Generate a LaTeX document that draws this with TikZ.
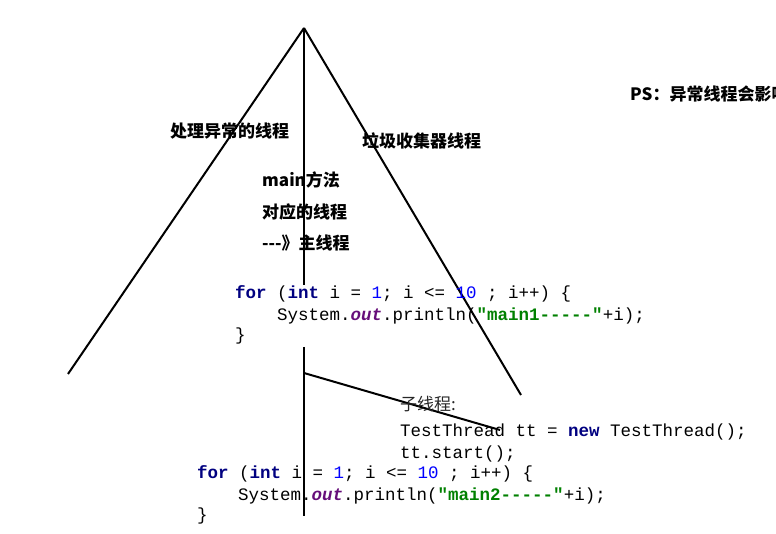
\documentclass[tikz,border=0pt]{standalone}
\usepackage{fontspec}
\setmonofont{Liberation Mono}
\newfontfamily\cjk{Noto Sans CJK SC}
\usepackage{xcolor}
\usetikzlibrary{positioning}

\definecolor{kwblue}{HTML}{000080}
\definecolor{numblue}{HTML}{0000FF}
\definecolor{fieldpurple}{HTML}{660E7A}
\definecolor{strgreen}{HTML}{008000}

\newcommand{\kw}[1]{\textcolor{kwblue}{\textbf{#1}}}
\newcommand{\jnum}[1]{\textcolor{numblue}{#1}}
\newcommand{\jfield}[1]{\textcolor{fieldpurple}{\textbf{\textit{#1}}}}
\newcommand{\jstr}[1]{\textcolor{strgreen}{\textbf{#1}}}

\begin{document}
\begin{tikzpicture}[
    x=1pt, y=-1pt,
    branch/.style={line width=2pt, black},
    thread/.style={anchor=west, inner sep=0pt, font=\cjk\bfseries\fontsize{17}{20}\selectfont},
    note/.style={anchor=west, inner sep=0pt, font=\cjk\fontsize{17}{20}\selectfont, black!85},
    code/.style={anchor=base west, inner sep=0pt, font=\ttfamily\fontsize{17.5}{21}\selectfont}
]
\useasboundingbox (0,0) rectangle (776,534);

% Branch points
\coordinate (top) at (304,28);
\coordinate (leftend) at (68,374);
\coordinate (rightend) at (521,395);
\coordinate (maingap) at (304,285);
\coordinate (mainresume) at (304,347);
\coordinate (mainend) at (304,516);
\coordinate (childstart) at (304,373);
\coordinate (childend) at (500,430);

% Threads
\draw[branch] (top) -- (leftend);
\draw[branch] (top) -- (rightend);
\draw[branch] (top) -- (maingap);
\draw[branch] (mainresume) -- (mainend);
\draw[branch] (childstart) -- (childend);

% Labels
\node[thread] (handler) at (170,131) {处理异常的线程};
\node[thread] (gc) at (362,141) {垃圾收集器线程};
\node[thread] (mainA) at (262,180) {main方法};
\node[thread] (mainB) at (262,212) {对应的线程};
\node[thread] (mainC) at (262,243) {---》主线程};
\node[thread] (ps) at (630,94) {PS：异常线程会影响};

% Code of main
\node[code] (forA) at (235,299) {\kw{for} (\kw{int} i = \jnum{1}; i <= \jnum{10} ; i++) \{};
\node[code] (printA) at (277,321) {System.\jfield{out}.println(\jstr{"main1-----"}+i);};
\node[code] (closeA) at (235,341) {\}};

% Child thread
\node[note] (child) at (400,404) {子线程:};
\node[code] (newT) at (400,436) {TestThread tt = \kw{new} TestThread();};
\node[code] (startT) at (400,458) {tt.start();};

\node[code] (forB) at (197,478) {\kw{for} (\kw{int} i = \jnum{1}; i <= \jnum{10} ; i++) \{};
\node[code] (printB) at (238,500) {System.\jfield{out}.println(\jstr{"main2-----"}+i);};
\node[code] (closeB) at (197,520) {\}};

\end{tikzpicture}
\end{document}
